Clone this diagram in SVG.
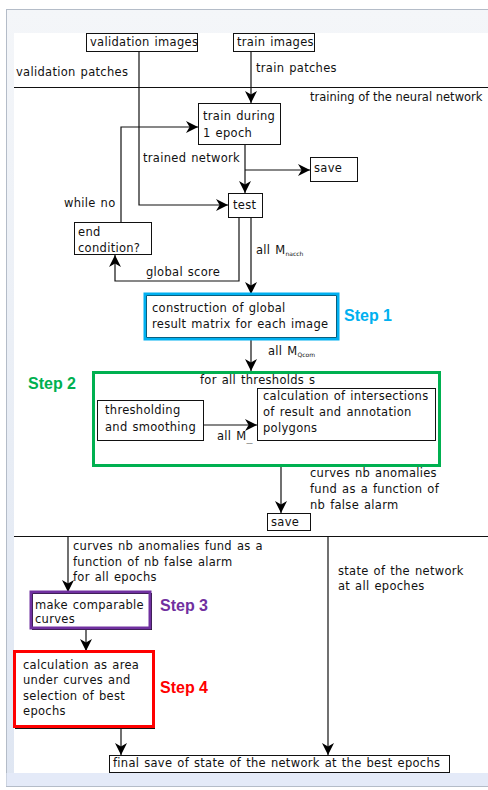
<svg xmlns="http://www.w3.org/2000/svg" width="488" height="790" viewBox="0 0 488 790">
<defs>
<linearGradient id="tb" x1="0" y1="0" x2="0" y2="1"><stop offset="0" stop-color="#f4f6f9"/><stop offset="1" stop-color="#dfe6f2"/></linearGradient>
<marker id="ah" viewBox="0 0 10 10" refX="10" refY="5" markerWidth="12" markerHeight="12" markerUnits="userSpaceOnUse" orient="auto">
<path d="M0,0 L10,5 L0,10 L3,5 z" fill="#000"/>
</marker>
<style>
text{font-family:"DejaVu Sans","Liberation Sans",sans-serif;font-size:11.5px;letter-spacing:0.3px;word-spacing:1px;fill:#111}
.sub{font-size:6px;letter-spacing:0}
.b{fill:#fff;stroke:#111;stroke-width:1}
.c{fill:none;stroke:#111;stroke-width:1.2}
.a{marker-end:url(#ah)}
.st{font-family:"Liberation Sans",Arial,sans-serif;font-weight:bold;font-size:16px;letter-spacing:0;word-spacing:0}
</style>
</defs>
<rect x="0" y="0" width="488" height="790" fill="#fff"/>
<!-- window frame -->
<rect x="6.5" y="9.5" width="490" height="777" fill="url(#tb)" stroke="#b4bcc8"/>
<rect x="6.5" y="773" width="490" height="13" fill="#e4eaf8"/>
<rect x="14" y="33" width="480" height="740" fill="#fff"/>

<!-- training region frame -->
<g id="training">
<path d="M14,87.5 H488 M14,536.5 H488" class="c"/>
<text x="310" y="101" style="letter-spacing:0;word-spacing:0">training of the neural network</text>
</g>

<g id="connectors">
<path class="c a" d="M251,52 V103"/>
<path class="c a" d="M139,50 V205 H228"/>
<path class="c a" d="M121,222 V127 H198"/>
<path class="c a" d="M245,145 V193"/>
<path class="c a" d="M245,170 H310"/>
<path class="c a" d="M239,218 V281 H115 V255"/>
<path class="c a" d="M251,218 V294"/>
<path class="c a" d="M251,339 V371"/>
<path class="c a" d="M203,425 H257"/>
<path class="c a" d="M281,466 V513"/>
<path class="c a" d="M68,536 V592"/>
<path class="c a" d="M328,536 V755"/>
<path class="c a" d="M86,629 V651"/>
<path class="c a" d="M121,727 V755"/>
<text x="16" y="76">validation patches</text>
<text x="256" y="72">train patches</text>
<text x="143" y="162">trained network</text>
<text x="64" y="207">while no</text>
<text x="146" y="276">global score</text>
<text x="256" y="254">all M<tspan class="sub" dy="2">nacch</tspan></text>
<text x="268" y="355">all M<tspan class="sub" dy="2">Qcom</tspan></text>
<text x="217" y="440">all M<tspan class="sub" dy="2">__</tspan></text>
<text x="310" y="477">curves nb anomalies</text>
<text x="310" y="493">fund as a function of</text>
<text x="310" y="509">nb false alarm</text>
<text x="73" y="550">curves nb anomalies fund as a</text>
<text x="73" y="566">function of nb false alarm</text>
<text x="73" y="581">for all epochs</text>
<text x="338" y="575">state of the network</text>
<text x="338" y="590">at all epoches</text>
</g>

<g id="validation-images">
<rect class="b" x="86.5" y="33.5" width="111" height="18"/>
<text x="90" y="46">validation images</text>
</g>
<g id="train-images">
<rect class="b" x="233.5" y="33.5" width="81" height="18"/>
<text x="237" y="46">train images</text>
</g>
<g id="train-epoch">
<rect class="b" x="198.5" y="103.5" width="82" height="41"/>
<text x="203" y="120">train during</text>
<text x="203" y="137">1 epoch</text>
</g>
<g id="save1">
<rect class="b" x="310.5" y="157.5" width="47" height="24"/>
<text x="314" y="172">save</text>
</g>
<g id="test">
<rect class="b" x="228.5" y="193.5" width="34" height="24"/>
<text x="233" y="209">test</text>
</g>
<g id="end-condition">
<rect class="b" x="74.5" y="222.5" width="77" height="32"/>
<text x="78" y="236">end</text>
<text x="78" y="252">condition?</text>
</g>
<g id="step1">
<rect class="b" x="146.5" y="295.5" width="190" height="42"/>
<rect x="145" y="294" width="193" height="45" fill="none" stroke="#00b0f0" stroke-width="3"/>
<text x="152" y="312">construction of global</text>
<text x="152" y="328">result matrix for each image</text>
<text class="st" x="344" y="321" style="fill:#00b0f0">Step 1</text>
</g>
<g id="step2">
<rect x="93.5" y="372.5" width="346" height="93" fill="none" stroke="#00b050" stroke-width="3"/>
<text x="200" y="384">for all thresholds s</text>
<text class="st" x="28" y="389" style="fill:#00b050">Step 2</text>
</g>
<g id="thresholding">
<rect class="b" x="97.5" y="400.5" width="106" height="40"/>
<text x="105" y="414">thresholding</text>
<text x="105" y="431">and smoothing</text>
</g>
<g id="calculation">
<rect class="b" x="257.5" y="388.5" width="178" height="52"/>
<text x="263" y="400">calculation of intersections</text>
<text x="263" y="416">of result and annotation</text>
<text x="263" y="432">polygons</text>
</g>
<g id="save2">
<rect class="b" x="267.5" y="513.5" width="43" height="17"/>
<text x="271" y="526">save</text>
</g>
<g id="step3">
<rect class="b" x="32.5" y="593.5" width="119" height="36"/>
<rect x="31" y="592" width="119" height="36" fill="none" stroke="#7030a0" stroke-width="3"/>
<text x="35" y="609">make comparable</text>
<text x="35" y="623">curves</text>
<text class="st" x="160" y="611" style="fill:#7030a0">Step 3</text>
</g>
<g id="step4">
<rect class="b" x="15.5" y="652.5" width="139" height="76"/>
<rect x="14.5" y="651.5" width="139" height="75" fill="none" stroke="#ff0000" stroke-width="3"/>
<text x="23" y="669">calculation as area</text>
<text x="23" y="684">under curves and</text>
<text x="23" y="700">selection of best</text>
<text x="23" y="715">epochs</text>
<text class="st" x="160" y="693" style="fill:#ff0000">Step 4</text>
</g>
<g id="final-save">
<rect class="b" x="109.5" y="755.5" width="340" height="17"/>
<text x="113" y="767">final save of state of the network at the best epochs</text>
</g>
</svg>
